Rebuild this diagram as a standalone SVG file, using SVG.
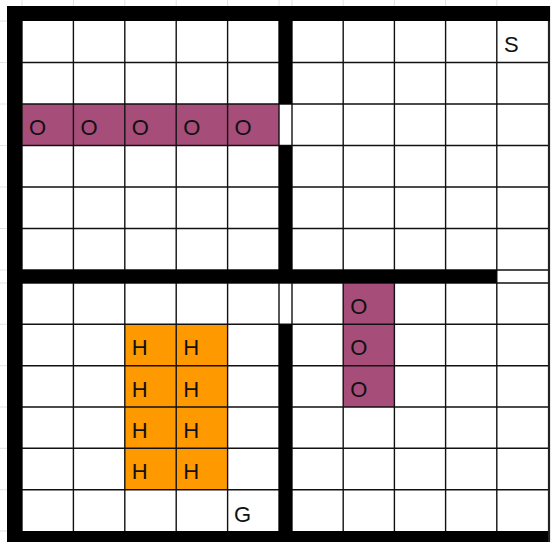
<svg xmlns="http://www.w3.org/2000/svg" width="552" height="542" viewBox="0 0 552 542">
  <style>
    .faint { stroke: #e2e2e2; stroke-width: 1; }
    .grid { stroke: #111; stroke-width: 1.4; }
    .wall { fill: #000; }
    .o { fill: #a64d79; }
    .h { fill: #ff9900; }
    .lbl { font-family: "Liberation Sans", Arial, sans-serif; font-size: 22px; fill: #111; }
  </style>
  <rect x="0" y="0" width="552" height="542" fill="#fff"/>
  <g id="faint-lines">
    <path class="faint" d="M22,0V6 M73.4,0V6 M124.8,0V6 M176.2,0V6 M227.6,0V6 M279,0V6 M292,0V6 M343.2,0V6 M394.4,0V6 M445.6,0V6 M496.8,0V6 M0,21H7 M0,62.5H7 M0,104H7 M0,145.5H7 M0,187H7 M0,228.5H7 M0,270H7 M0,283H7 M0,324.3H7 M0,365.7H7 M0,407H7 M0,448.3H7 M0,489.7H7 M0,531H7"/>
  </g>
  <g id="cells">
    <g id="o-row">
      <rect class="o" x="22" y="104" width="51.4" height="41.5"/>
      <rect class="o" x="73.4" y="104" width="51.4" height="41.5"/>
      <rect class="o" x="124.8" y="104" width="51.4" height="41.5"/>
      <rect class="o" x="176.2" y="104" width="51.4" height="41.5"/>
      <rect class="o" x="227.6" y="104" width="51.4" height="41.5"/>
    </g>
    <g id="o-col">
      <rect class="o" x="343.2" y="283" width="51.2" height="124"/>
    </g>
    <g id="h-block">
      <rect class="h" x="124.8" y="324.3" width="102.8" height="165.4"/>
    </g>
  </g>
  <g id="grid">
    <path class="grid" d="M22,21V531 M73.4,21V531 M124.8,21V531 M176.2,21V531 M227.6,21V531 M279,21V531 M292,21V531 M343.2,21V531 M394.4,21V531 M445.6,21V531 M496.8,21V531"/>
    <path class="grid" d="M22,62.5H549 M22,104H549 M22,145.5H549 M22,187H549 M22,228.5H549 M22,270H549 M22,283H549 M22,324.3H549 M22,365.7H549 M22,407H549 M22,448.3H549 M22,489.7H549"/>
    <path d="M549,6V542" stroke="#222" stroke-width="2.2"/>
  </g>
  <g id="walls">
    <rect class="wall" x="7" y="6" width="15" height="536"/>
    <rect class="wall" x="7" y="6" width="543" height="15"/>
    <rect class="wall" x="7" y="531" width="541" height="11"/>
    <rect class="wall" x="279" y="21" width="13" height="83"/>
    <rect class="wall" x="279" y="145.5" width="13" height="137.5"/>
    <rect class="wall" x="279" y="324.3" width="13" height="206.7"/>
    <rect class="wall" x="22" y="270" width="474.8" height="13"/>
  </g>
  <g id="labels">
    <g id="start"><text class="lbl" x="504" y="52">S</text></g>
    <g id="goal"><text class="lbl" x="234" y="521.5">G</text></g>
    <g id="o-labels">
      <text class="lbl" x="29" y="135">O</text>
      <text class="lbl" x="80.4" y="135">O</text>
      <text class="lbl" x="131.8" y="135">O</text>
      <text class="lbl" x="183.2" y="135">O</text>
      <text class="lbl" x="234.6" y="135">O</text>
      <text class="lbl" x="350.2" y="313.8">O</text>
      <text class="lbl" x="350.2" y="355.2">O</text>
      <text class="lbl" x="350.2" y="396.5">O</text>
    </g>
    <g id="h-labels">
      <text class="lbl" x="131.8" y="355.2">H</text>
      <text class="lbl" x="183.2" y="355.2">H</text>
      <text class="lbl" x="131.8" y="396.5">H</text>
      <text class="lbl" x="183.2" y="396.5">H</text>
      <text class="lbl" x="131.8" y="437.8">H</text>
      <text class="lbl" x="183.2" y="437.8">H</text>
      <text class="lbl" x="131.8" y="479.2">H</text>
      <text class="lbl" x="183.2" y="479.2">H</text>
    </g>
  </g>
</svg>
